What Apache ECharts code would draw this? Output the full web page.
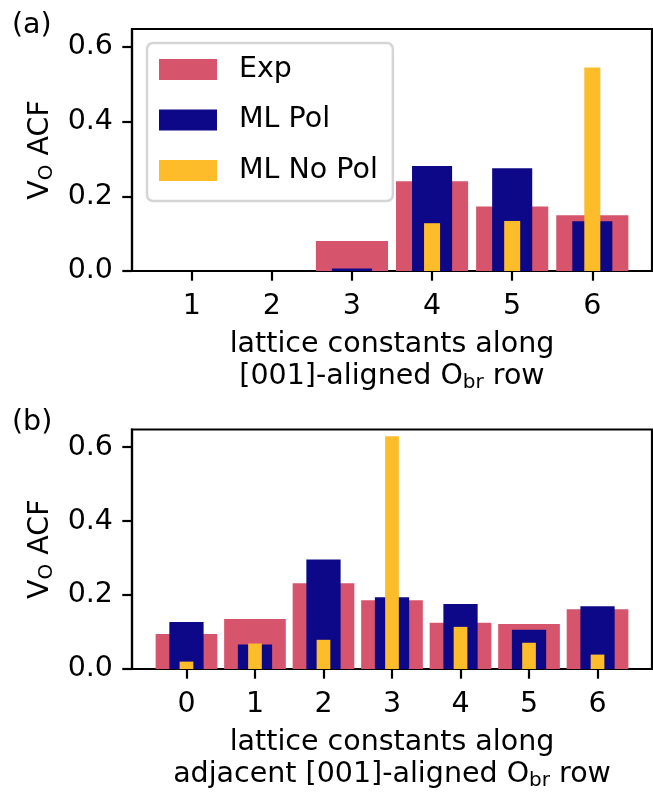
<!DOCTYPE html>
<html>
<head>
<meta charset="utf-8">
<script src="https://cdn.jsdelivr.net/npm/echarts@6/dist/echarts.min.js"></script>
<style>
  html, body { margin: 0; padding: 0; background: #fff; }
  #main { width: 653px; height: 792px; }
</style>
</head>
<body>
<div id="main"></div>
<script>
// panel (a): along the row
var catsA = [1, 2, 3, 4, 5, 6];
var expA = [0, 0, 0.080, 0.240, 0.173, 0.149];
var polA = [0, 0, 0.007, 0.281, 0.275, 0.133];
var noPolA = [0, 0, 0, 0.128, 0.134, 0.545];

// panel (b): adjacent row
var catsB = [0, 1, 2, 3, 4, 5, 6];
var expB = [0.095, 0.135, 0.232, 0.186, 0.125, 0.122, 0.162];
var polB = [0.127, 0.066, 0.296, 0.194, 0.176, 0.106, 0.170];
var noPolB = [0.020, 0.069, 0.079, 0.630, 0.114, 0.071, 0.039];

var yTicks = [0, 0.2, 0.4, 0.6];
var seriesNames = ['Exp', 'ML Pol', 'ML No Pol'];
var colors = ['#d6546c', '#0d0887', '#fdbc2a'];
var widths = [0.9, 0.5, 0.2];

var FONT = 'DejaVu Sans';
var FS = 28.5;
var GRID_W = 520;
var xRanges = [[0.255, 6.745], [-0.795, 6.795]];

function pairs(cats, vals) {
  return cats.map(function (c, i) { return [c, vals[i]]; });
}

var rich = {
  m: { fontSize: FS, fontFamily: FONT, color: '#000', lineHeight: 32 },
  sub: { fontSize: 20, fontFamily: FONT, color: '#000', lineHeight: 17, verticalAlign: 'bottom' }
};

var xAxes = [];
var series = [];
[[catsA, [expA, polA, noPolA], '{m|[001]-aligned O}{sub|br}{m| row}'],
 [catsB, [expB, polB, noPolB], '{m|adjacent [001]-aligned O}{sub|br}{m| row}']].forEach(function (p, g) {
  var cats = p[0];
  var r = xRanges[g];
  var unit = GRID_W / (r[1] - r[0]);
  for (var k = 0; k < 3; k++) {
    xAxes.push({
      type: 'value', gridIndex: g, min: r[0], max: r[1], show: k === 0,
      name: k === 0 ? '{m|lattice constants along}\n' + p[2] : '',
      nameLocation: 'middle', nameGap: 58,
      nameTextStyle: { rich: rich, lineHeight: 32 },
      axisLine: { onZero: false, lineStyle: { color: '#000', width: 2.2 } },
      axisTick: { customValues: cats, length: 9.7, lineStyle: { color: '#000', width: 2.2 } },
      axisLabel: { customValues: cats, color: '#000', fontSize: FS, fontFamily: FONT, margin: 21 },
      splitLine: { show: false }
    });
    series.push({
      type: 'bar', name: seriesNames[k],
      xAxisIndex: g * 3 + k, yAxisIndex: g,
      barWidth: widths[k] * unit,
      itemStyle: { color: colors[k] },
      data: pairs(cats, p[1][k])
    });
  }
});

var yAxes = [0, 1].map(function (g) {
  return {
    type: 'value', gridIndex: g, min: 0, max: 0.648,
    name: '{m|V}{sub|O}{m| ACF}', nameLocation: 'middle', nameRotate: 90, nameGap: 74,
    nameTextStyle: { rich: rich },
    axisLine: { show: true, onZero: false, lineStyle: { color: '#000', width: 2.2 } },
    axisTick: { show: true, customValues: yTicks, length: 9.7, lineStyle: { color: '#000', width: 2.2 } },
    axisLabel: {
      customValues: yTicks, color: '#000', fontSize: FS, fontFamily: FONT, margin: 19,
      formatter: function (v) { return v.toFixed(1); }
    },
    splitLine: { show: false }
  };
});

var myChart = echarts.init(document.getElementById('main'));
myChart.setOption({
  animation: false,
  textStyle: { fontFamily: FONT },
  grid: [
    { left: 132, top: 29, width: GRID_W, height: 242, show: true, borderColor: '#000', borderWidth: 2.2 },
    { left: 132, top: 429.5, width: GRID_W, height: 242.5, show: true, borderColor: '#000', borderWidth: 2.2 }
  ],
  legend: {
    data: seriesNames, orient: 'vertical', left: 147, top: 43,
    icon: 'rect', itemWidth: 58, itemHeight: 21, itemGap: 21.5,
    padding: [12, 15, 16, 12],
    backgroundColor: 'rgba(255,255,255,0.8)',
    borderColor: '#d5d5d5', borderWidth: 2.5, borderRadius: 6,
    textStyle: { color: '#000', fontSize: FS, fontFamily: FONT, lineHeight: 21, padding: [0, 0, 0, 17] }
  },
  graphic: [
    { type: 'text', left: 12, top: 11, style: { text: '(a)', fontSize: FS, fontFamily: FONT, fill: '#000' } },
    { type: 'text', left: 12, top: 408, style: { text: '(b)', fontSize: FS, fontFamily: FONT, fill: '#000' } }
  ],
  xAxis: xAxes,
  yAxis: yAxes,
  series: series
});
</script>
</body>
</html>
